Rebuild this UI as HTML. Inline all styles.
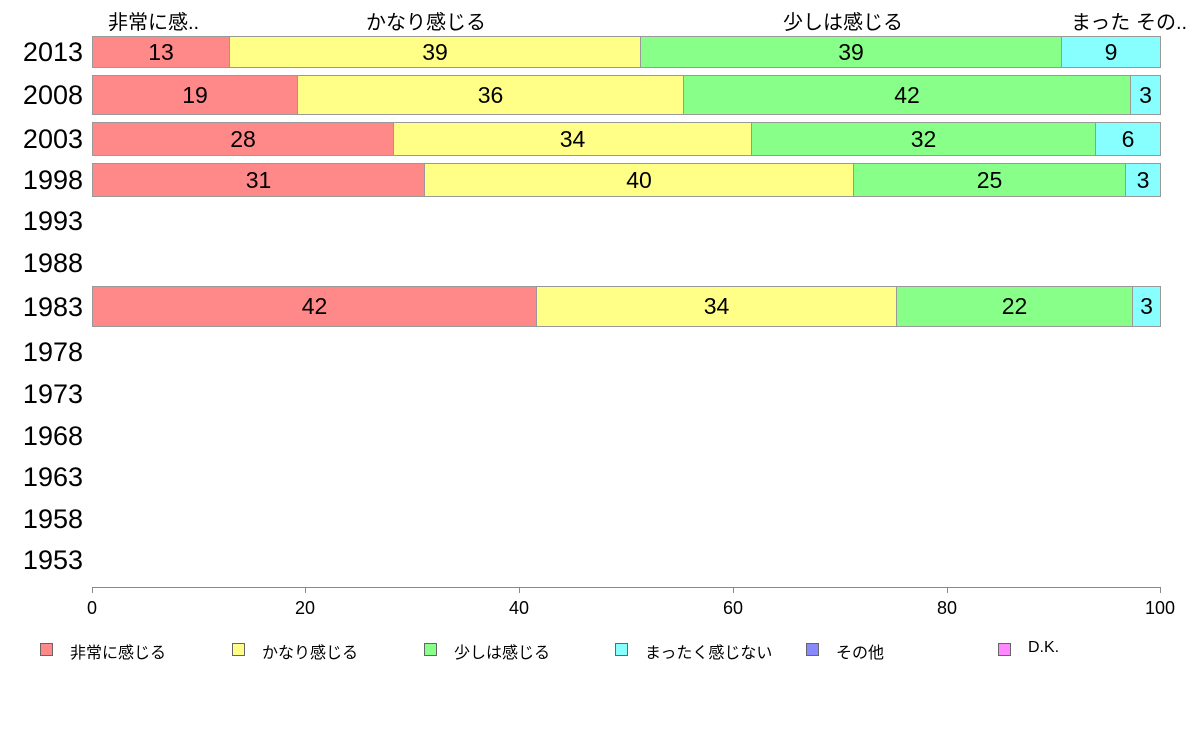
<!DOCTYPE html><html><head><meta charset="utf-8"><style>
body{margin:0;width:1188px;height:736px;background:#fff;position:relative;overflow:hidden;font-family:"Liberation Sans","Noto Sans CJK JP",sans-serif;}
div{position:absolute;box-sizing:border-box}
.s{border:1px solid #999;font-size:23px;display:flex;align-items:center;justify-content:center;color:#000}
.r{background:#ff8888}.y{background:#ffff88}.g{background:#88ff88}.c{background:#88ffff}
.yl{left:0;width:83px;text-align:right;font-size:27px;color:#000;line-height:30px}
.h{font-size:20px;top:6px;white-space:nowrap}
.t{font-size:18px;top:598px;width:40px;text-align:center;margin-left:-20px}
.lg{top:643px;width:13px;height:13px;border:1px solid #666}
.lt{top:639px;font-size:16px;white-space:nowrap}
</style></head><body>
<div class="h" style="left:108px">非常に感..</div>
<div class="h" style="left:366px">かなり感じる</div>
<div class="h" style="left:783px">少しは感じる</div>
<div class="h" style="left:1071px">まった</div>
<div class="h" style="left:1136px">その..</div>

<div class="yl" style="top:37px">2013</div>
<div class="yl" style="top:80px">2008</div>
<div class="yl" style="top:124px">2003</div>
<div class="yl" style="top:165px">1998</div>
<div class="yl" style="top:206px">1993</div>
<div class="yl" style="top:248px">1988</div>
<div class="yl" style="top:292px">1983</div>
<div class="yl" style="top:337px">1978</div>
<div class="yl" style="top:379px">1973</div>
<div class="yl" style="top:421px">1968</div>
<div class="yl" style="top:462px">1963</div>
<div class="yl" style="top:504px">1958</div>
<div class="yl" style="top:545px">1953</div>

<div class="s r" style="left:92px;width:138px;top:36px;height:32px">13</div>
<div class="s y" style="left:229px;width:412px;top:36px;height:32px">39</div>
<div class="s g" style="left:640px;width:422px;top:36px;height:32px">39</div>
<div class="s c" style="left:1061px;width:100px;top:36px;height:32px">9</div>

<div class="s r" style="left:92px;width:206px;top:75px;height:40px">19</div>
<div class="s y" style="left:297px;width:387px;top:75px;height:40px">36</div>
<div class="s g" style="left:683px;width:448px;top:75px;height:40px">42</div>
<div class="s c" style="left:1130px;width:31px;top:75px;height:40px">3</div>

<div class="s r" style="left:92px;width:302px;top:122px;height:34px">28</div>
<div class="s y" style="left:393px;width:359px;top:122px;height:34px">34</div>
<div class="s g" style="left:751px;width:345px;top:122px;height:34px">32</div>
<div class="s c" style="left:1095px;width:66px;top:122px;height:34px">6</div>

<div class="s r" style="left:92px;width:333px;top:163px;height:34px">31</div>
<div class="s y" style="left:424px;width:430px;top:163px;height:34px">40</div>
<div class="s g" style="left:853px;width:273px;top:163px;height:34px">25</div>
<div class="s c" style="left:1125px;width:36px;top:163px;height:34px">3</div>

<div class="s r" style="left:92px;width:445px;top:286px;height:41px">42</div>
<div class="s y" style="left:536px;width:361px;top:286px;height:41px">34</div>
<div class="s g" style="left:896px;width:237px;top:286px;height:41px">22</div>
<div class="s c" style="left:1132px;width:29px;top:286px;height:41px">3</div>

<div style="left:92px;top:587px;width:1069px;height:1px;background:#888"></div>
<div style="left:92px;top:587px;width:1px;height:6px;background:#888"></div>
<div style="left:305px;top:587px;width:1px;height:6px;background:#888"></div>
<div style="left:519px;top:587px;width:1px;height:6px;background:#888"></div>
<div style="left:733px;top:587px;width:1px;height:6px;background:#888"></div>
<div style="left:947px;top:587px;width:1px;height:6px;background:#888"></div>
<div style="left:1160px;top:587px;width:1px;height:6px;background:#888"></div>
<div class="t" style="left:92px">0</div>
<div class="t" style="left:305px">20</div>
<div class="t" style="left:519px">40</div>
<div class="t" style="left:733px">60</div>
<div class="t" style="left:947px">80</div>
<div class="t" style="left:1160px">100</div>

<div class="lg" style="left:40px;background:#ff8888"></div><div class="lt" style="left:70px">非常に感じる</div>
<div class="lg" style="left:232px;background:#ffff88"></div><div class="lt" style="left:262px">かなり感じる</div>
<div class="lg" style="left:424px;background:#88ff88"></div><div class="lt" style="left:454px">少しは感じる</div>
<div class="lg" style="left:615px;background:#88ffff"></div><div class="lt" style="left:645px">まったく感じない</div>
<div class="lg" style="left:806px;background:#8888ff"></div><div class="lt" style="left:836px">その他</div>
<div class="lg" style="left:998px;background:#ff88ff"></div><div class="lt" style="left:1028px">D.K.</div>
</body></html>
